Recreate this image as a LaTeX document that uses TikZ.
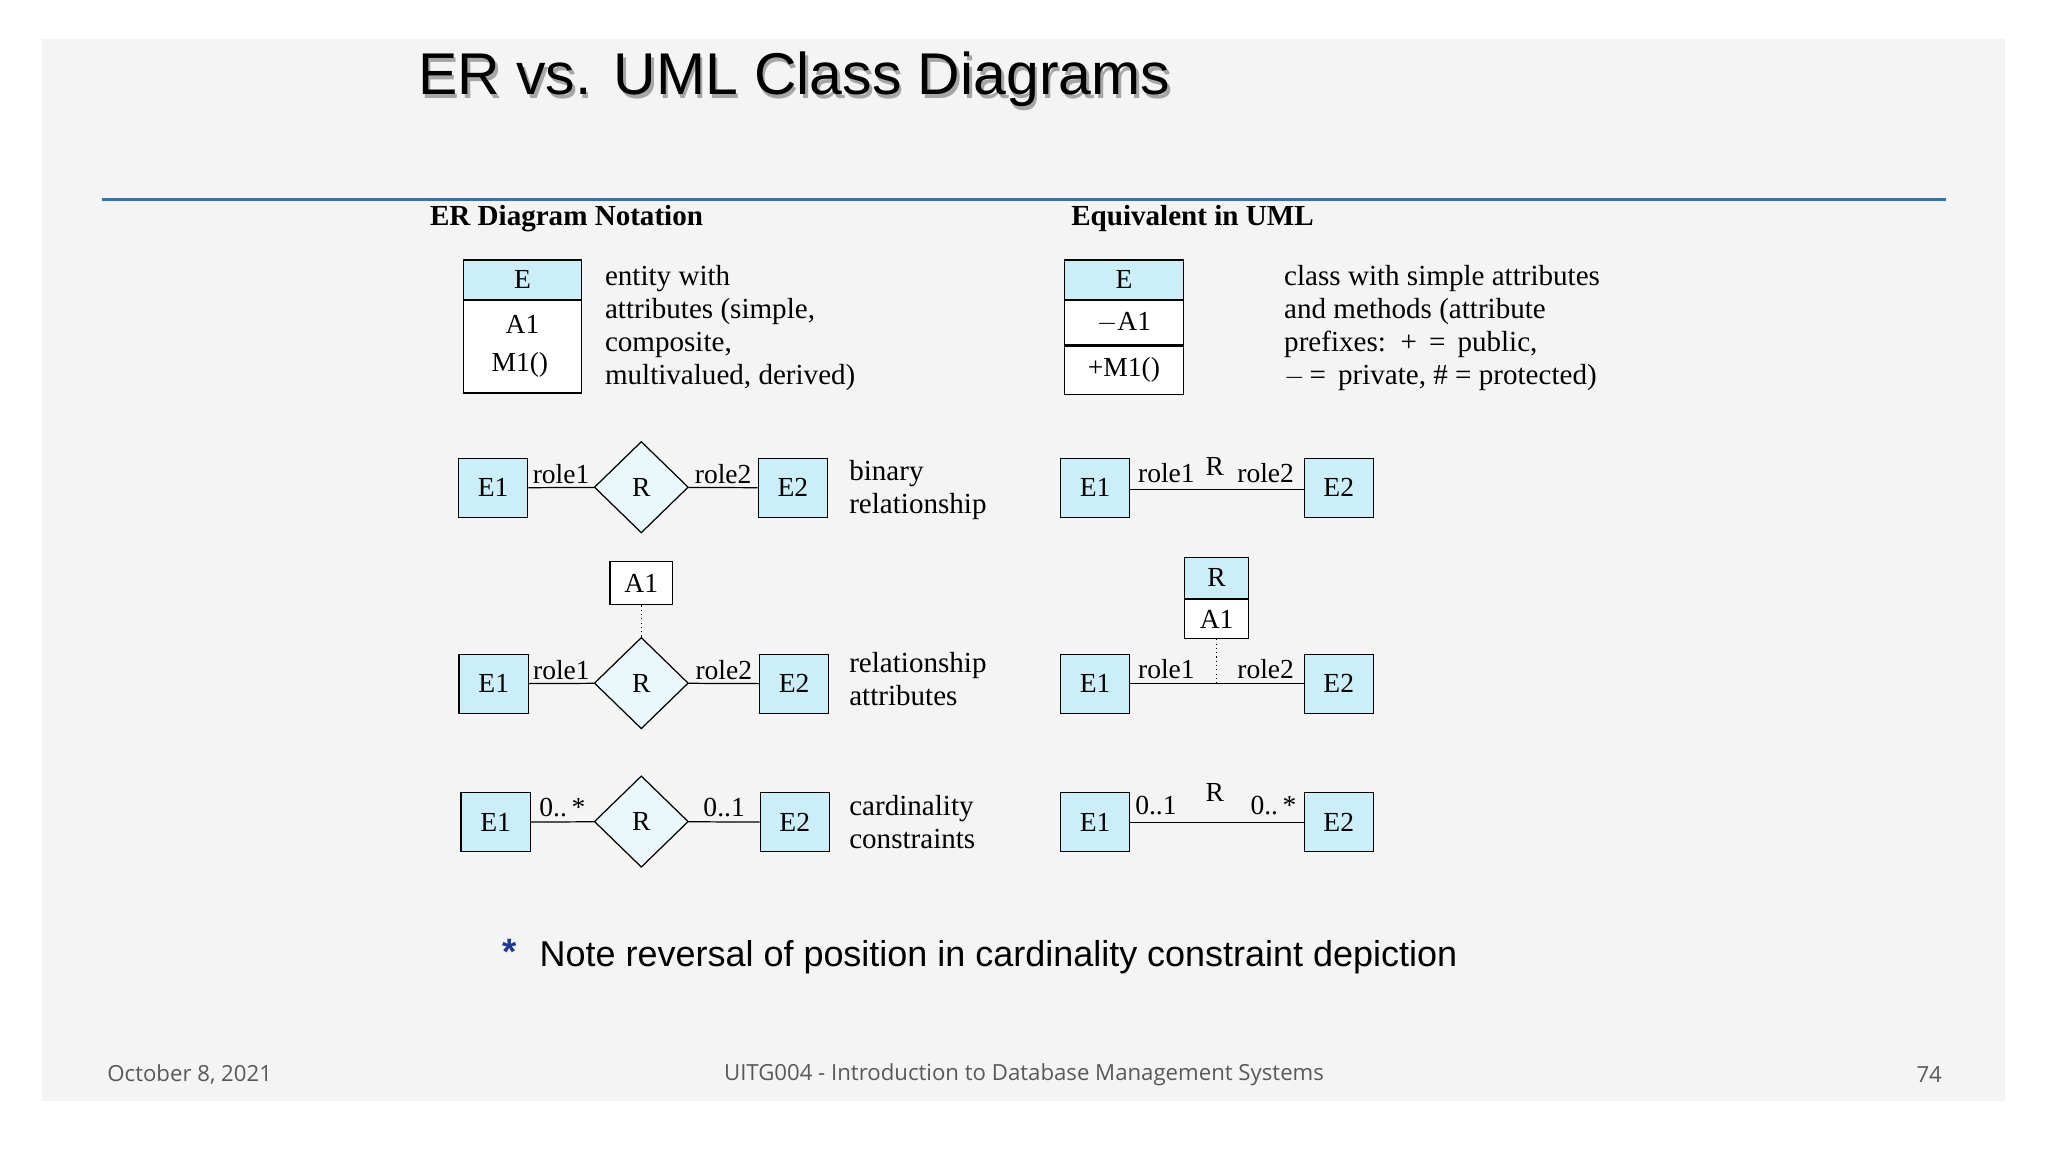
\documentclass[tikz,border=0pt]{standalone}
\usepackage{fontspec}
\setmainfont{Liberation Serif}
\newfontfamily\arialfont{Liberation Sans}
\newfontfamily\footfont{Open Sans}
\usetikzlibrary{positioning,shapes.geometric}
\definecolor{slidegray}{RGB}{244,244,244}
\definecolor{rulerblue}{RGB}{46,117,182}
\definecolor{entblue}{RGB}{204,238,248}
\definecolor{relblue}{RGB}{234,247,251}
\definecolor{starblue}{RGB}{31,56,150}
\newcommand{\erfont}{\fontsize{18}{21.5}\selectfont}
\newcommand{\notefont}{\fontsize{19}{21.5}\selectfont}
\tikzstyle{entity}=[draw=black,fill=entblue,line width=0.8pt,minimum width=1.59cm,minimum height=1.35cm,inner sep=0pt,font=\erfont]
\tikzstyle{rel}=[diamond,aspect=1,draw=black,fill=relblue,line width=0.8pt,minimum width=2.16cm,minimum height=2.1cm,inner sep=0pt,font=\erfont]
\tikzstyle{attr}=[draw=black,fill=white,line width=0.8pt,inner sep=0pt,font=\erfont]
\tikzstyle{label}=[inner sep=0pt,font=\erfont]
\tikzstyle{note}=[inner sep=0pt,font=\notefont,align=left,anchor=north west]
\tikzstyle{link}=[draw=black,line width=0.8pt]
\tikzstyle{dots}=[link,dotted]

\begin{document}
\begin{tikzpicture}[x=0.03cm,y=-0.03cm]
    % slide
    \fill[white] (0,0) rectangle (1568,882);
    \fill[slidegray] (32,30) rectangle (1535,843);
    \useasboundingbox (0,0) rectangle (1568,882);
    \node[anchor=west,inner sep=0pt,text=black!35,font=\arialfont\fontsize{38.5}{40}\selectfont] at (322,64) {ER vs. UML Class Diagrams};
    \node[anchor=west,inner sep=0pt,font=\arialfont\fontsize{38.5}{40}\selectfont] (title) at (320,61) {ER vs. UML Class Diagrams};
    \draw[rulerblue,line width=2pt] (78,153) -- (1490,153);
    \node[label,anchor=west,font=\notefont\bfseries] (erhead) at (329,167) {ER Diagram Notation};
    \node[label,anchor=west,font=\notefont\bfseries] (umlhead) at (820,167) {Equivalent in UML};

    % ER: entity with attributes
    \node[entity,minimum width=2.7cm,minimum height=0.9cm] (eh) at (400,214) {E};
    \node[attr,minimum width=2.7cm,minimum height=2.13cm,below=0pt of eh] (eb) {};
    \node[label] (ea) at (400,248) {A1};
    \node[label] (em) at (398,279) {M1()};
    \node[note] (etext) at (463,203) {entity with\\attributes (simple,\\composite,\\multivalued, derived)};

    % ER: binary relationship
    \node[entity] (b1) at (377.5,373.5) {E1};
    \node[rel] (br) at (491,373) {R};
    \node[entity] (b2) at (607,373.5) {E2};
    \draw[link] (b1) -- (br) node[label,pos=0.5,above=2pt] (br1) {role1};
    \draw[link] (br) -- (b2) node[label,pos=0.5,above=2pt] (br2) {role2};
    \node[note] (btext) at (650,352) {binary\\relationship};

    % ER: relationship attributes
    \node[attr,minimum width=1.44cm,minimum height=0.99cm] (ra) at (491,446.5) {A1};
    \node[entity] (r1) at (378,523.5) {E1};
    \node[rel] (rr) at (491,523) {R};
    \node[entity] (r2) at (608,523.5) {E2};
    \draw[dots] (ra) -- (rr);
    \draw[link] (r1) -- (rr) node[label,pos=0.5,above=2pt] (rr1) {role1};
    \draw[link] (rr) -- (r2) node[label,pos=0.5,above=2pt] (rr2) {role2};
    \node[note] (rtext) at (650,499) {relationship\\attributes};

    % ER: cardinality constraints
    \node[entity] (c1) at (379.5,629.5) {E1};
    \node[rel] (cr) at (491,629) {R};
    \node[entity] (c2) at (608.5,629.5) {E2};
    \draw[link] (c1) -- (cr) node[label,pos=0.5,above=3pt] (cr1) {0..\,*};
    \draw[link] (cr) -- (c2) node[label,pos=0.5,above=3pt] (cr2) {0..1};
    \node[note] (ctext) at (650,609) {cardinality\\constraints};

    % UML: class
    \node[entity,minimum width=2.73cm,minimum height=0.9cm] (uh) at (860.5,214) {E};
    \node[attr,minimum width=2.73cm,minimum height=1.02cm,below=0pt of uh] (ua) {$-$A1};
    \node[attr,minimum width=2.73cm,minimum height=1.11cm,below=0pt of ua] (um) {+M1()};
    \node[note] (utext) at (983,203) {class with simple attributes\\and methods (attribute\\prefixes: \,+ \,= \,public,\\$-$\,= \,private, \# = protected)};

    % UML: binary association
    \node[entity] (ub1) at (838.5,373.5) {E1};
    \node[entity] (ub2) at (1025,373.5) {E2};
    \draw[link] (ub1.east |- 0,375) -- (ub2.west |- 0,375);
    \node[label] (ubr1) at (893,362) {role1};
    \node[label] (ubr) at (930,357) {R};
    \node[label] (ubr2) at (969,362) {role2};

    % UML: association class
    \node[entity,minimum width=1.47cm,minimum height=0.93cm] (uah) at (931.5,442.5) {R};
    \node[attr,minimum width=1.47cm,minimum height=0.9cm,below=0pt of uah] (uaa) {A1};
    \node[entity] (ua1) at (838.5,523.5) {E1};
    \node[entity] (ua2) at (1025,523.5) {E2};
    \draw[link] (ua1) -- (ua2);
    \coordinate (uamid) at (931.5,523);
    \draw[dots] (uaa) -- (uamid);
    \node[label] (uar1) at (893,512) {role1};
    \node[label] (uar2) at (969,512) {role2};

    % UML: multiplicities
    \node[entity] (uc1) at (838.5,629.5) {E1};
    \node[entity] (uc2) at (1025,629.5) {E2};
    \draw[link] (uc1) -- (uc2);
    \node[label] (ucm1) at (885,617) {0..1};
    \node[label] (ucr) at (930,607) {R};
    \node[label] (ucm2) at (975,617) {0..\,*};

    % footnote and footer
    \node[inner sep=0pt,text=starblue,font=\arialfont\bfseries\fontsize{24}{26}\selectfont] (star) at (390,729) {*};
    \node[anchor=west,inner sep=0pt,font=\arialfont\fontsize{23.5}{26}\selectfont] (remark) at (413,733) {Note reversal of position in cardinality constraint depiction};
    \node[anchor=west,inner sep=0pt,text=black!65,font=\footfont\fontsize{14.5}{17}\selectfont] (date) at (82,823) {October 8, 2021};
    \node[inner sep=0pt,text=black!65,font=\footfont\fontsize{14.5}{17}\selectfont] (course) at (784,823) {UITG004 - Introduction to Database Management Systems};
    \node[anchor=east,inner sep=0pt,text=black!65,font=\footfont\fontsize{14.5}{17}\selectfont] (page) at (1487,823) {74};
\end{tikzpicture}
\end{document}
